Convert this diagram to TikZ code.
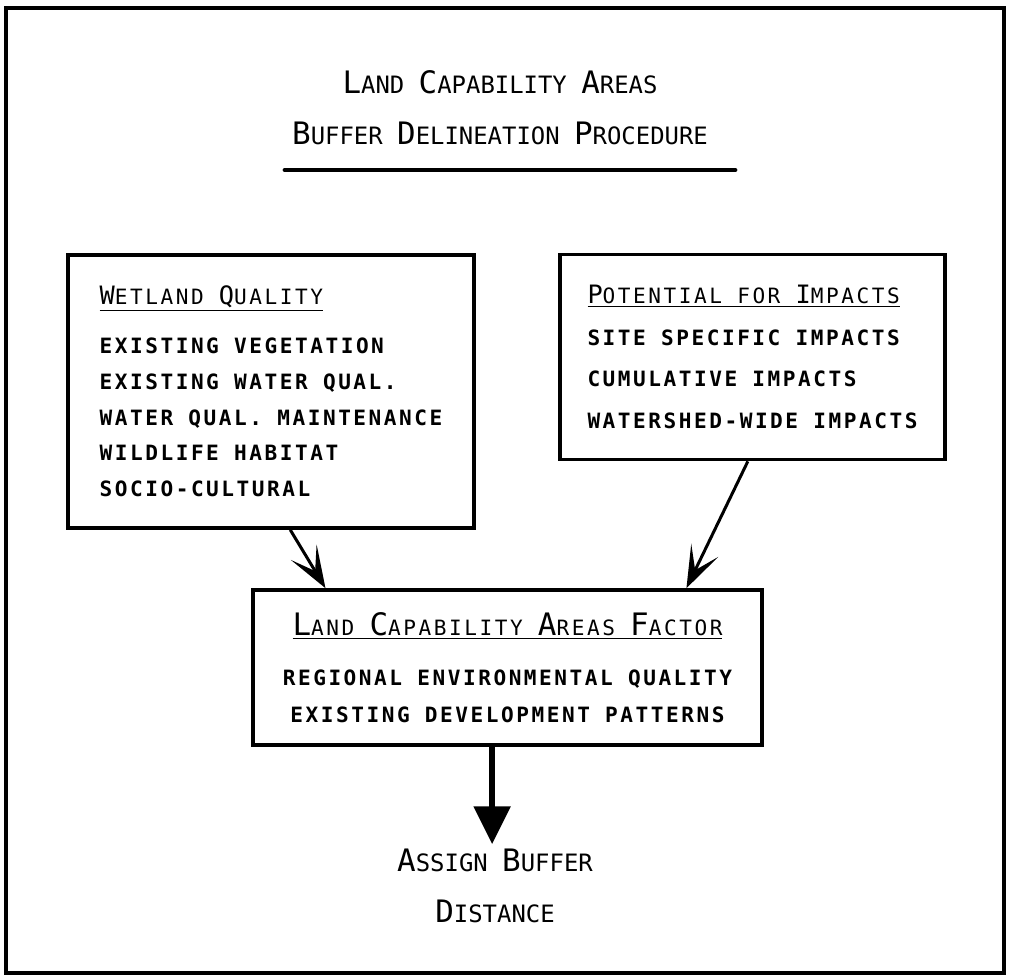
\documentclass[tikz,border=0pt]{standalone}
\usepackage{fontspec}
\newfontfamily\plotfont[LetterSpace=12]{DejaVu Sans Mono}
\newfontfamily\headfont{DejaVu Sans Mono}
\usetikzlibrary{arrows.meta,calc}

% bigger initial letter for the small-caps headings
\newcommand\ini[2]{{\fontsize{#1}{#1}\selectfont #2}}

\tikzset{
	box/.style={draw, line width=0.09cm, align=left, inner sep=0pt},
	feed/.style={line width=0.075cm, -{Stealth[length=1.05cm, width=0.75cm, inset=0.55cm]}},
	result/.style={line width=0.15cm, -{Triangle[length=0.95cm, width=0.9cm]}}
}

\begin{document}
\begin{tikzpicture}[x=0.025cm, y=-0.025cm]
		\useasboundingbox (0,0) rectangle (1011,978);
		\draw[line width=0.12cm] (6,8) rectangle (1004,973);
		
		\node[align=center, font=\headfont\fontsize{17}{36}\selectfont] (title) at (500,108)
			{\ini{22}{L}AND \ini{22}{C}APABILITY \ini{22}{A}REAS\\
			 \ini{22}{B}UFFER \ini{22}{D}ELINEATION \ini{22}{P}ROCEDURE};
		\draw[line width=0.12cm, line cap=round] ($(title.center)+(-215,62)$) -- ($(title.center)+(235,62)$);
		
		\node[box, minimum width=10.15cm, minimum height=6.825cm, font=\plotfont\fontsize{15}{25.5}\selectfont] (wq) at (271,391.5)
			{{\mdseries\underline{\ini{18}{W}ETLAND \ini{18}{Q}UALITY}}\\[9pt]
			 \bfseries EXISTING VEGETATION\\
			 \bfseries EXISTING WATER QUAL.\\
			 \bfseries WATER QUAL. MAINTENANCE\\
			 \bfseries WILDLIFE HABITAT\\
			 \bfseries SOCIO-CULTURAL};
		
		\node[box, minimum width=9.625cm, minimum height=5.125cm, font=\plotfont\fontsize{15}{29.5}\selectfont] (pi) at (752.5,357)
			{{\mdseries\underline{\ini{18}{P}OTENTIAL FOR \ini{18}{I}MPACTS}}\\
			 \bfseries SITE SPECIFIC IMPACTS\\
			 \bfseries CUMULATIVE IMPACTS\\
			 \bfseries WATERSHED-WIDE IMPACTS};
		
		\node[box, align=center, minimum width=12.725cm, minimum height=3.875cm, font=\plotfont\fontsize{15}{26.3}\selectfont] (lcf) at (507.5,667.5)
			{{\mdseries\underline{\ini{22}{L}AND \ini{22}{C}APABILITY \ini{22}{A}REAS \ini{22}{F}ACTOR}}\\[9pt]
			 \bfseries REGIONAL ENVIRONMENTAL QUALITY\\
			 \bfseries EXISTING DEVELOPMENT PATTERNS};
		
		\node[align=center, font=\headfont\fontsize{17}{36}\selectfont] (assign) at (495,886)
			{\ini{22}{A}SSIGN \ini{22}{B}UFFER\\ \ini{22}{D}ISTANCE};
		
		\draw[feed] ($(wq.south west)!0.547!(wq.south east)$) -- ($(lcf.north west)!0.145!(lcf.north east)$);
		\draw[feed] ($(pi.south west)!0.488!(pi.south east)$) -- ($(lcf.north west)!0.849!(lcf.north east)$);
		
		\coordinate (drop) at ($(lcf.south west)!0.47!(lcf.south east)$);
		\draw[result] (drop) -- (drop |- assign.north);

	\end{tikzpicture}
\end{document}
